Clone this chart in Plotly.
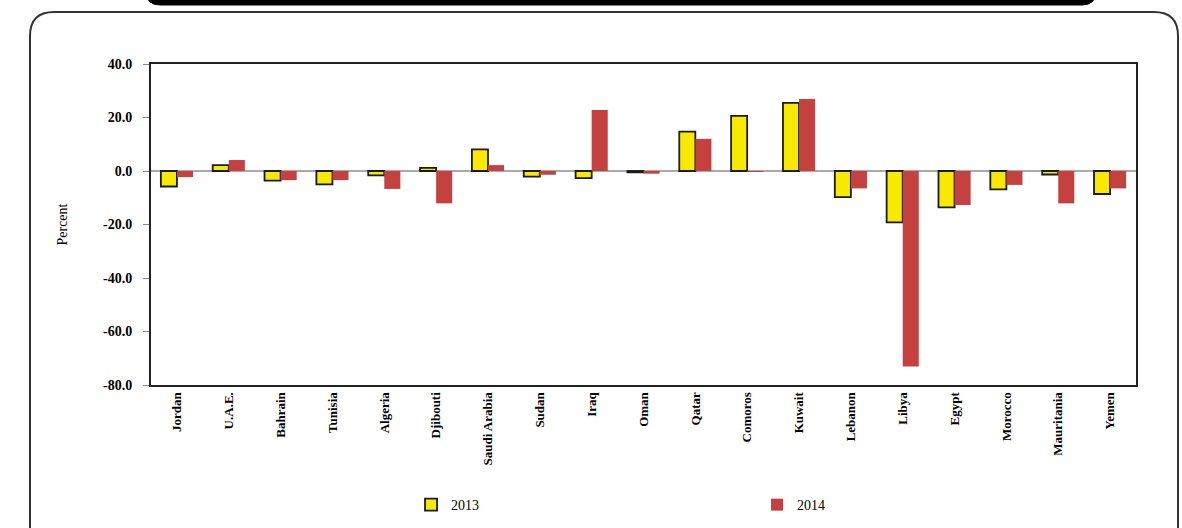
"""Real GDP growth by Arab country, 2013 vs 2014 (grouped bar chart)."""

import plotly.graph_objects as go

COUNTRIES = [
    "Jordan", "U.A.E.", "Bahrain", "Tunisia", "Algeria", "Djibouti",
    "Saudi Arabia", "Sudan", "Iraq", "Oman", "Qatar", "Comoros", "Kuwait",
    "Lebanon", "Libya", "Egypt", "Morocco", "Mauritania", "Yemen",
]
VALUES_2013 = [
    -5.8, 2.2, -3.6, -5.0, -1.6, 1.2, 8.1, -2.1, -2.7, -0.5,
    14.7, 20.6, 25.5, -9.8, -19.2, -13.6, -6.9, -1.3, -8.6,
]
VALUES_2014 = [
    -2.3, 4.1, -3.4, -3.4, -6.7, -12.1, 2.2, -1.4, 22.8, -1.0,
    12.0, -0.3, 26.9, -6.5, -73.1, -12.7, -5.2, -12.1, -6.5,
]
Y_TICKS = [40, 20, 0, -20, -40, -60, -80]
Y_TICK_TEXT = ["40.0", "20.0", "0.0", "-20.0", "-40.0", "-60.0", "-80.0"]

SERIF = "Liberation Serif, Times New Roman, serif"

# plot area in pixels, used to place the decorative frame in paper units
L, R, T, B = 151, 1136, 64, 385
W, H = R - L, B - T


def px(x):
    return (x - L) / W


def py(y):
    return (B - y) / H


def rounded_path(x0, y0, x1, y1, r, top=True, bottom=True):
    rx, ry = r / W, r / H
    X0, X1, Y0, Y1 = px(x0), px(x1), py(y0), py(y1)  # Y0 top, Y1 bottom
    p = []
    if top:
        p.append(f"M {X0},{Y1} L {X0},{Y0 - ry} Q {X0},{Y0} {X0 + rx},{Y0}")
        p.append(f"L {X1 - rx},{Y0} Q {X1},{Y0} {X1},{Y0 - ry}")
    else:
        p.append(f"M {X0},{Y0} L {X1},{Y0}")
    if bottom:
        p.append(f"L {X1},{Y1 + ry} Q {X1},{Y1} {X1 - rx},{Y1}")
        p.append(f"L {X0 + rx},{Y1} Q {X0},{Y1} {X0},{Y1 + ry} Z")
    else:
        p.append(f"L {X1},{Y1}")
    return " ".join(p)


fig = go.Figure()
fig.add_trace(go.Bar(
    x=COUNTRIES, y=VALUES_2013, name="2013",
    marker=dict(color="#f7e900", line=dict(color="#1a1a1a", width=1.8)),
))
fig.add_trace(go.Bar(
    x=COUNTRIES, y=VALUES_2014, name="2014",
    marker=dict(color="#c4413f", line=dict(width=0)),
))

shapes = [
    # outer rounded frame
    dict(type="path", xref="paper", yref="paper",
         path=rounded_path(30, 12, 1178, 560, 24),
         line=dict(color="#333333", width=2), fillcolor="rgba(0,0,0,0)", layer="below"),
    # black banner at the top
    dict(type="path", xref="paper", yref="paper",
         path=rounded_path(146, -20, 1096, 5, 14, top=False),
         line=dict(color="black", width=1), fillcolor="black"),
]

fig.update_layout(
    width=1182, height=528,
    margin=dict(l=L, r=1182 - R, t=T, b=528 - B, autoexpand=False),
    paper_bgcolor="white", plot_bgcolor="white",
    barmode="group", bargap=0.38, bargroupgap=0,
    font=dict(family=SERIF, color="black"),
    shapes=shapes,
    legend=dict(
        orientation="h", x=0.264, y=-0.374, xanchor="left", yanchor="middle",
        entrywidth=301, entrywidthmode="pixels",
        font=dict(size=14, family=SERIF),
        bgcolor="rgba(0,0,0,0)",
    ),
    showlegend=True,
)
fig.update_xaxes(
    showline=True, mirror=True, linecolor="#222222", linewidth=2,
    ticks="", tickangle=-90, automargin=False,
    tickfont=dict(size=13, family=SERIF, weight="bold"),
)
fig.update_yaxes(
    range=[-80, 40], tickvals=Y_TICKS, ticktext=Y_TICK_TEXT, automargin=False,
    showline=True, mirror=True, linecolor="#222222", linewidth=2,
    ticks="outside", ticklen=6, tickcolor="#888888", ticklabelstandoff=8,
    tickfont=dict(size=14, family=SERIF, weight="bold"),
    showgrid=False, zeroline=True, zerolinecolor="#aaaaaa", zerolinewidth=2,
    title=dict(text="Percent", font=dict(size=14, family=SERIF), standoff=32),
)

fig.write_html(
    "out.html",
    config={"displayModeBar": False},
    post_script="document.body.style.margin='0';",
)
